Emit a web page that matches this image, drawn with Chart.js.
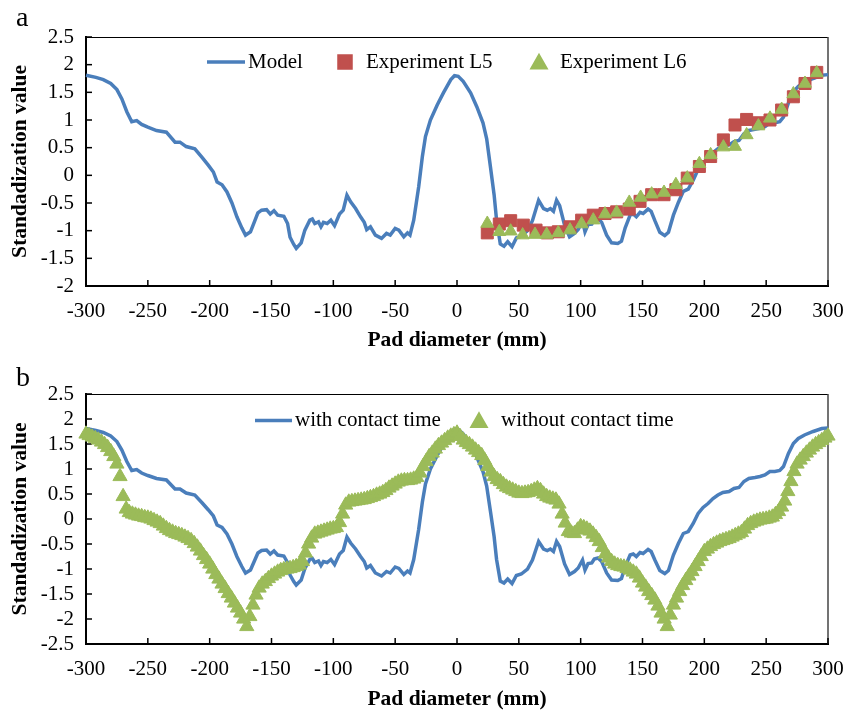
<!DOCTYPE html>
<html><head><meta charset="utf-8">
<script src="https://cdn.jsdelivr.net/npm/chart.js@4.4.0/dist/chart.umd.min.js"></script>
<style>
html,body{margin:0;padding:0;background:#fff;width:857px;height:710px;overflow:hidden}
.panel{position:absolute;left:0;width:857px;height:355px}
.lbl{position:absolute;left:16px;font-family:"Liberation Serif","Times New Roman",serif;font-size:28px;line-height:28px;color:#000}
</style></head><body>
<div class="panel" style="top:0"><canvas id="ca" width="857" height="355"></canvas></div>
<div class="panel" style="top:355px"><canvas id="cb" width="857" height="355"></canvas></div>
<div class="lbl" style="top:3px">a</div>
<div class="lbl" style="top:363px">b</div>
<script>
// ---------- DATA ----------
const xTicks = [-300, -250, -200, -150, -100, -50, 0, 50, 100, 150, 200, 250, 300];
const yTicksA = [-2, -1.5, -1, -0.5, 0, 0.5, 1, 1.5, 2, 2.5];
const yTicksB = [-2.5, -2, -1.5, -1, -0.5, 0, 0.5, 1, 1.5, 2, 2.5];

const modelX = [-300,-292,-286,-280,-275,-271,-267,-263,-259,-255,-250,-243,-235,-228,-224,-219,-212,-206,-201,-197,-194,-190,-186,-182,-178,-174,-171,-167,-164,-161,-158,-154,-151,-148,-145,-140,-137,-135,-132,-130,-126,-123,-119,-117,-115,-112,-110,-108,-105,-102,-99,-95,-92,-89,-86,-82,-78,-75,-73,-70,-66,-61,-57,-54,-50,-47,-43,-40,-38,-35,-31,-28,-25.5,-21.5,-16,-11,-5,-2,1,5,11,16,21,24,27,30,32,35,38,41,44.5,48,52,57,61,66,70,73,75.5,78,80.5,83,87,91,95,98,101.5,103.5,106,109,111,114,117,121,125,130,133,136,140,142.5,145,148,150.5,154.5,157,160,164,168,171,175,179,183,187,191,195,199,203,207,211,215,220,224,228,232,236,241,245,249,253,257,261,264,268,272,276,281,288,295,300];
const modelY = [1.81,1.77,1.73,1.66,1.55,1.38,1.15,0.97,0.99,0.92,0.87,0.81,0.78,0.60,0.60,0.52,0.48,0.32,0.18,0.06,-0.12,-0.17,-0.30,-0.50,-0.75,-0.95,-1.08,-1.02,-0.85,-0.68,-0.63,-0.62,-0.70,-0.64,-0.72,-0.74,-0.87,-1.12,-1.25,-1.32,-1.22,-0.99,-0.81,-0.79,-0.87,-0.84,-0.93,-0.85,-0.87,-0.81,-0.91,-0.70,-0.63,-0.36,-0.48,-0.60,-0.75,-0.85,-0.98,-0.93,-1.08,-1.14,-1.05,-1.08,-0.96,-0.99,-1.11,-1.04,-1.08,-0.81,-0.21,0.34,0.70,1.00,1.27,1.49,1.73,1.80,1.79,1.70,1.49,1.24,0.95,0.66,0.16,-0.35,-0.81,-1.24,-1.28,-1.20,-1.29,-1.13,-1.10,-1.00,-0.82,-0.45,-0.60,-0.63,-0.60,-0.65,-0.45,-0.55,-0.90,-1.11,-1.05,-0.98,-0.82,-1.02,-0.89,-0.88,-0.80,-0.78,-0.85,-1.08,-1.22,-1.23,-1.19,-0.95,-0.72,-0.70,-0.75,-0.67,-0.69,-0.61,-0.65,-0.82,-1.03,-1.09,-1.03,-0.72,-0.49,-0.29,-0.25,-0.09,0.11,0.23,0.31,0.41,0.48,0.53,0.55,0.61,0.63,0.75,0.81,0.83,0.85,0.88,0.95,0.95,0.97,1.05,1.31,1.51,1.61,1.68,1.75,1.81,1.82];

const l5X = [24.5,34.2,43.4,53.6,63.9,73.0,81.9,91.4,100.8,110.2,119.7,129.1,139.3,148.0,157.4,167.4,177.0,186.2,196.0,205.1,215.4,224.8,234.2,243.7,253.1,262.5,272.0,281.4,290.9];
const l5Y = [-1.04,-0.88,-0.82,-0.90,-0.99,-1.04,-1.02,-0.93,-0.81,-0.72,-0.69,-0.66,-0.61,-0.47,-0.35,-0.35,-0.26,-0.05,0.16,0.34,0.64,0.91,1.01,0.95,1.00,1.18,1.42,1.66,1.86];
const l6X = [24.5,34.2,43.4,53.1,63.1,72.5,81.9,91.4,100.8,110.2,119.7,129.1,139.3,148.5,157.4,167.4,177.0,186.2,196.0,205.1,215.4,224.8,234.2,243.7,253.1,262.5,272.0,281.4,290.9];
const l6Y = [-0.87,-1.02,-1.01,-1.08,-1.07,-1.07,-1.04,-0.99,-0.88,-0.81,-0.70,-0.67,-0.49,-0.40,-0.34,-0.31,-0.17,-0.05,0.21,0.37,0.51,0.52,0.73,0.89,1.03,1.19,1.47,1.66,1.85];

const noContactX = [
  -300,-297.5,-295,-292.5,-290,-287.5,-285,-282.5,-280,-277.5,-275,-272.5,-270,-267.5,-265,-262.5,-260,-257.5,-255,-252.5,-250,
  -247.5,-245,-242.5,-240,-237.5,-235,-232.5,-230,-227.5,-225,-222.5,-220,-217.5,-215,-212.5,-210,-207.5,-205,-202.5,-200,
  -197.5,-195,-192.5,-190,-187.5,-185,-182.5,-180,-177.5,-175,-172.5,-170,-167.5,-165,-162.5,-160,-157.5,-155,-152.5,-150,
  -147.5,-145,-142.5,-140,-137.5,-135,-132.5,-130,-127.5,-125,-122.5,-120,-117.5,-115,-112.5,-110,-107.5,-105,-102.5,-100,
  -97.5,-95,-92.5,-90,-87.5,-85,-82.5,-80,-77.5,-75,-72.5,-70,-67.5,-65,-62.5,-60,-57.5,-55,-52.5,-50,
  -47.5,-45,-42.5,-40,-37.5,-35,-32.5,-30,-27.5,-25,-22.5,-20,-17.5,-15,-12.5,-10,-7.5,-5,-2.5,0,
  2.5,5,7.5,10,12.5,15,17.5,20,22.5,25,27.5,30,32.5,35,37.5,40,42.5,45,47.5,50,
  52.5,55,57.5,60,62.5,65,67.5,70,72.5,75,77.5,80,82.5,85,87.5,90,92.5,95,97.5,100,
  102.5,105,107.5,110,112.5,115,117.5,120,122.5,125,127.5,130,132.5,135,137.5,140,142.5,145,147.5,150,
  152.5,155,157.5,160,162.5,165,167.5,170,172.5,175,177.5,180,182.5,185,187.5,190,192.5,195,197.5,200,
  202.5,205,207.5,210,212.5,215,217.5,220,222.5,225,227.5,230,232.5,235,237.5,240,242.5,245,247.5,250,
  252.5,255,257.5,260,262.5,265,267.5,270,272.5,275,277.5,280,282.5,285,287.5,290,292.5,295,297.5,300];
const noContactY = [
  1.70,1.67,1.64,1.61,1.58,1.54,1.49,1.43,1.35,1.25,1.10,0.85,0.45,0.20,0.13,0.10,0.08,0.06,0.05,0.03,0.02,
  0.00,-0.03,-0.06,-0.09,-0.14,-0.19,-0.23,-0.26,-0.29,-0.31,-0.33,-0.36,-0.39,-0.43,-0.49,-0.56,-0.64,-0.73,-0.81,-0.90,
  -1.00,-1.11,-1.20,-1.30,-1.39,-1.49,-1.58,-1.68,-1.78,-1.88,-2.00,-2.15,-1.95,-1.72,-1.52,-1.38,-1.30,-1.25,-1.19,-1.14,
  -1.10,-1.06,-1.03,-1.01,-1.00,-0.99,-0.97,-0.95,-0.92,-0.85,-0.68,-0.50,-0.38,-0.30,-0.28,-0.26,-0.24,-0.22,-0.20,-0.19,
  -0.17,-0.07,0.10,0.28,0.34,0.35,0.36,0.37,0.38,0.39,0.41,0.43,0.45,0.48,0.50,0.53,0.57,0.62,0.66,0.70,
  0.74,0.76,0.77,0.77,0.78,0.80,0.83,0.92,1.05,1.15,1.25,1.32,1.40,1.47,1.52,1.57,1.62,1.66,1.69,1.72,
  1.65,1.58,1.53,1.49,1.44,1.38,1.33,1.27,1.17,1.05,0.94,0.85,0.79,0.75,0.69,0.64,0.61,0.58,0.55,0.52,
  0.51,0.52,0.53,0.55,0.58,0.61,0.57,0.50,0.45,0.42,0.40,0.38,0.30,0.10,-0.08,-0.25,-0.28,-0.29,-0.22,-0.15,
  -0.17,-0.20,-0.24,-0.30,-0.37,-0.45,-0.57,-0.70,-0.78,-0.85,-0.90,-0.93,-0.95,-0.96,-0.99,-1.02,-1.06,-1.10,-1.18,-1.28,
  -1.36,-1.45,-1.53,-1.62,-1.74,-1.88,-2.00,-2.15,-1.92,-1.72,-1.58,-1.45,-1.33,-1.23,-1.14,-1.05,-0.95,-0.85,-0.75,-0.65,
  -0.60,-0.55,-0.51,-0.48,-0.45,-0.43,-0.41,-0.39,-0.36,-0.33,-0.30,-0.27,-0.20,-0.13,-0.09,-0.06,-0.04,-0.02,-0.01,0.00,
  0.02,0.04,0.09,0.15,0.24,0.36,0.55,0.75,0.95,1.10,1.18,1.25,1.32,1.38,1.44,1.49,1.53,1.57,1.62,1.66];

// ---------- STYLE ----------
const FONT = '"Liberation Serif", "Times New Roman", serif';
const BLUE = '#4A7EBB', RED = '#C0504D', GREEN = '#9BBB59';
Chart.defaults.font.family = FONT;
Chart.defaults.color = '#000';

const pts = (xs, ys) => xs.map((x, i) => ({x: x, y: ys[i]}));

const framePlugin = {
  id: 'frame',
  beforeDatasetsDraw(chart) {
    const {ctx, chartArea: a, scales} = chart;
    ctx.save();
    ctx.strokeStyle = '#000';
    ctx.lineWidth = 1.2;
    ctx.beginPath(); ctx.moveTo(a.left, a.top + 0.5); ctx.lineTo(a.right, a.top + 0.5); ctx.stroke();
    ctx.strokeStyle = '#444';
    ctx.lineWidth = 1.5;
    ctx.beginPath(); ctx.moveTo(a.right, a.top); ctx.lineTo(a.right, a.bottom); ctx.stroke();
    ctx.strokeStyle = '#000';
    ctx.lineWidth = 1.5;
    scales.x.ticks.forEach(t => {
      const px = scales.x.getPixelForValue(t.value);
      ctx.beginPath(); ctx.moveTo(px, a.bottom); ctx.lineTo(px, a.bottom - 6); ctx.stroke();
    });
    scales.y.ticks.forEach(t => {
      const py = scales.y.getPixelForValue(t.value);
      ctx.beginPath(); ctx.moveTo(a.left, py); ctx.lineTo(a.left + 6, py); ctx.stroke();
    });
    ctx.restore();
  }
};

const legendPlugin = {
  id: 'insideLegend',
  afterDraw(chart, args, opts) {
    const ctx = chart.ctx;
    ctx.save();
    ctx.font = '21px ' + FONT;
    ctx.textBaseline = 'middle';
    ctx.textAlign = 'left';
    chart.data.datasets.forEach((ds, i) => {
      const it = opts.items[i];
      const y = opts.y;
      if (ds.showLine) {
        ctx.strokeStyle = ds.borderColor;
        ctx.lineWidth = ds.borderWidth;
        ctx.beginPath(); ctx.moveTo(it.s, y); ctx.lineTo(it.s + it.len, y); ctx.stroke();
      } else {
        ctx.fillStyle = ds.backgroundColor;
        ctx.strokeStyle = ds.borderColor;
        const r = it.r || ds.pointRadius;
        const yy = ds.pointStyle === 'triangle' ? y + r / 4 : y;
        Chart.helpers.drawPoint(ctx, {pointStyle: ds.pointStyle, radius: r, borderWidth: 1, rotation: 0}, it.s, yy);
      }
      ctx.fillStyle = '#000';
      ctx.fillText(ds.label, it.t, y);
    });
    ctx.restore();
  }
};

function makeOptions(yMin, yMax, yTicks, padTop, xHeight, xTitlePadBottom, legend) {
  return {
    responsive: false,
    animation: false,
    devicePixelRatio: 1,
    layout: {padding: {left: 0, right: 29, top: padTop, bottom: 0}},
    plugins: {legend: {display: false}, tooltip: {enabled: false}, insideLegend: legend},
    scales: {
      x: {
        type: 'linear', min: -300, max: 300,
        afterBuildTicks: ax => { ax.ticks = xTicks.map(v => ({value: v})); },
        afterFit: s => { s.height = xHeight; },
        ticks: {padding: 13, font: {size: 21}, color: '#000', maxRotation: 0, autoSkip: false, callback: v => String(v)},
        grid: {display: false, drawTicks: false},
        border: {display: true, width: 2, color: '#000'},
        title: {display: true, text: 'Pad diameter (mm)', color: '#000',
                font: {size: 21.5, weight: 'bold', lineHeight: 1}, padding: {top: 0, bottom: xTitlePadBottom}}
      },
      y: {
        type: 'linear', min: yMin, max: yMax,
        afterBuildTicks: ax => { ax.ticks = yTicks.map(v => ({value: v})); },
        afterFit: s => { s.width = 86; },
        ticks: {padding: 12, font: {size: 21}, color: '#000', autoSkip: false, callback: v => String(v)},
        grid: {display: false, drawTicks: false},
        border: {display: true, width: 2, color: '#000'},
        title: {display: true, text: 'Standadization value', color: '#000',
                font: {size: 21.5, weight: 'bold', lineHeight: 1}, padding: {top: 10, bottom: 0}}
      }
    }
  };
}

new Chart(document.getElementById('ca'), {
  type: 'scatter',
  data: {datasets: [
    {label: 'Model', data: pts(modelX, modelY), showLine: true, borderColor: BLUE, backgroundColor: BLUE,
     borderWidth: 3.5, pointRadius: 0, tension: 0, order: 3, clip: false},
    {label: 'Experiment L5', data: pts(l5X, l5Y), showLine: false, pointStyle: 'rect', pointRadius: 8.5,
     backgroundColor: RED, borderColor: RED, borderWidth: 1, order: 2, clip: false},
    {label: 'Experiment L6', data: pts(l6X, l6Y), showLine: false, pointStyle: 'triangle', pointRadius: 7.5,
     backgroundColor: GREEN, borderColor: GREEN, borderWidth: 1, order: 1, clip: false}
  ]},
  options: makeOptions(-2, 2.5, yTicksA, 37, 69, 3.5,
    {y: 62, items: [{s: 207, len: 38, t: 248}, {s: 345, t: 366}, {s: 539, t: 560}]}),
  plugins: [framePlugin, legendPlugin]
});

new Chart(document.getElementById('cb'), {
  type: 'scatter',
  data: {datasets: [
    {label: 'with contact time', data: pts(modelX, modelY), showLine: true, borderColor: BLUE, backgroundColor: BLUE,
     borderWidth: 3.5, pointRadius: 0, tension: 0, order: 2, clip: false},
    {label: 'without contact time', data: pts(noContactX, noContactY), showLine: false, pointStyle: 'triangle', pointRadius: 8.2,
     backgroundColor: GREEN, borderColor: GREEN, borderWidth: 1, order: 1, clip: false}
  ]},
  options: makeOptions(-2.5, 2.5, yTicksB, 39, 66, 0,
    {y: 65.5, items: [{s: 255, len: 37, t: 295}, {s: 479, t: 501, r: 7.5}]}),
  plugins: [framePlugin, legendPlugin]
});
</script>
</body></html>
